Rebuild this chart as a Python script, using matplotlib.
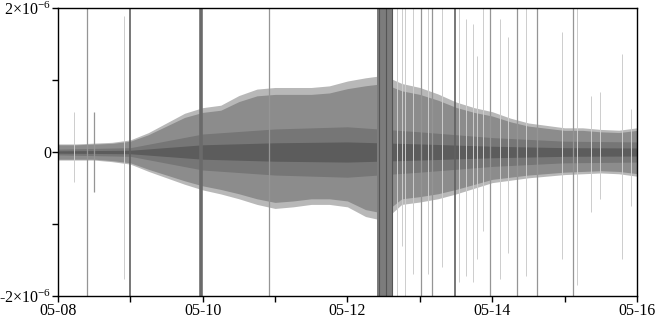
import matplotlib
matplotlib.use('Agg')
import matplotlib.pyplot as plt
import numpy as np

plt.rcParams['font.family'] = 'Liberation Serif'
plt.rcParams['mathtext.fontset'] = 'custom'
plt.rcParams['mathtext.rm'] = 'Liberation Serif'
plt.rcParams['mathtext.it'] = 'Liberation Serif'

# time in days after 05-08, amplitudes in units of 1e-6
days = np.arange(0, 8.01, 0.25)
upper = [0.10, 0.10, 0.11, 0.12, 0.15, 0.24, 0.36, 0.48, 0.55, 0.58, 0.70,
         0.78, 0.80, 0.80, 0.80, 0.82, 0.88, 0.92, 0.95, 0.85, 0.80, 0.72,
         0.62, 0.55, 0.50, 0.42, 0.36, 0.33, 0.30, 0.30, 0.28, 0.27, 0.30]
lower = [0.10, 0.10, 0.10, 0.12, 0.15, 0.24, 0.32, 0.40, 0.47, 0.52, 0.58,
         0.65, 0.70, 0.68, 0.65, 0.65, 0.68, 0.80, 0.85, 0.65, 0.62, 0.58,
         0.52, 0.45, 0.38, 0.35, 0.32, 0.30, 0.28, 0.27, 0.26, 0.27, 0.30]

core_days = [0, 1, 2, 3, 4, 5, 6, 7, 8]
core = [0.04, 0.06, 0.25, 0.32, 0.35, 0.28, 0.20, 0.15, 0.14]

# isolated spikes: time, top, bottom, shade
spike_t = [0.22, 0.40, 0.50, 0.91, 1.00, 1.98, 2.91, 4.68, 4.75, 4.80, 4.91,
           5.02, 5.11, 5.17, 5.30, 5.49, 5.54, 5.64, 5.73, 5.79, 5.88, 5.97,
           6.11, 6.22, 6.34, 6.47, 6.62, 6.97, 7.11, 7.17, 7.36, 7.49, 7.80, 7.92]
spike_top = [0.55, 2.5, 0.55, 1.89, 2.5, 2.5, 2.5, 2.5, 2.5, 2.5, 2.5,
             2.5, 2.5, 2.5, 2.5, 2.5, 2.5, 1.85, 1.78, 1.33, 2.5, 2.5,
             1.85, 1.60, 2.5, 2.0, 2.5, 1.67, 2.5, 2.5, 0.78, 0.83, 1.36, 0.60]
spike_bot = [-0.42, -2.5, -0.55, -1.76, -2.5, -2.5, -2.5, -2.5, -1.3, -2.5, -1.7,
             -2.5, -1.7, -2.5, -1.6, -2.5, -1.8, -1.72, -1.80, -1.49, -1.10, -2.5,
             -1.76, -1.40, -2.5, -1.72, -2.5, -1.49, -2.5, -1.85, -0.83, -0.65, -1.49, -0.75]
spike_shade = ['l', 'm', 'm', 'l', 'd', 'D', 'm', 'l', 'l', 'l', 'l',
               'm', 'l', 'm', 'l', 'd', 'l', 'l', 'l', 'l', 'l', 'm',
               'l', 'l', 'm', 'l', 'm', 'l', 'm', 'l', 'l', 'l', 'l', 'l']
shade_col = {'l': '#cdcdcd', 'm': '#959595', 'd': '#606060', 'D': '#6a6a6a'}
shade_lw = {'l': 0.7, 'm': 0.9, 'd': 1.2, 'D': 2.6}

# strong burst near 05-12
burst = (4.41, 4.63)
burst_lines = [4.43, 4.53, 4.61]

xtick_pos = [0, 2, 4, 6, 8]
xtick_lab = ['05-08', '05-10', '05-12', '05-14', '05-16']

fig = plt.figure(figsize=(6.58, 3.2), dpi=100)
ax = fig.add_axes([0.088, 0.075, 0.88, 0.90])

up = np.array(upper) * 1e-6
lo = -np.array(lower) * 1e-6
ax.fill_between(days, lo * 1.12, up * 1.12, color='#b8b8b8', lw=0)
ax.fill_between(days, lo, up, color='#8c8c8c', lw=0)
c = np.array(core) * 1e-6
ax.fill_between(core_days, -c, c, color='#767676', lw=0)
ax.fill_between(core_days, -c * 0.4, c * 0.4, color='#5c5c5c', lw=0)

for t, a, b, s in zip(spike_t, spike_top, spike_bot, spike_shade):
    ax.vlines(t, b * 1e-6, a * 1e-6, color=shade_col[s], lw=shade_lw[s])
ax.axvspan(burst[0], burst[1], color='#7c7c7c', lw=0)
ax.vlines(burst_lines, -2.5e-6, 2.5e-6, color='#555555', lw=0.8)

ax.set_xlim(0, 8)
ax.set_ylim(-2e-6, 2e-6)
ax.set_xticks(xtick_pos)
ax.set_xticklabels(xtick_lab)
ax.set_xticks([1, 3, 5, 7], minor=True)
ax.set_yticks([-2e-6, -1e-6, 0, 1e-6, 2e-6])
ax.set_yticklabels([r'-2$\times$10$^{-6}$', '', '0', '', r'2$\times$10$^{-6}$'])
ax.tick_params(which='both', direction='out', length=4, width=1, labelsize=11.5, pad=1)
for sp in ax.spines.values():
    sp.set_linewidth(1)

plt.savefig('out.png', dpi=100)
